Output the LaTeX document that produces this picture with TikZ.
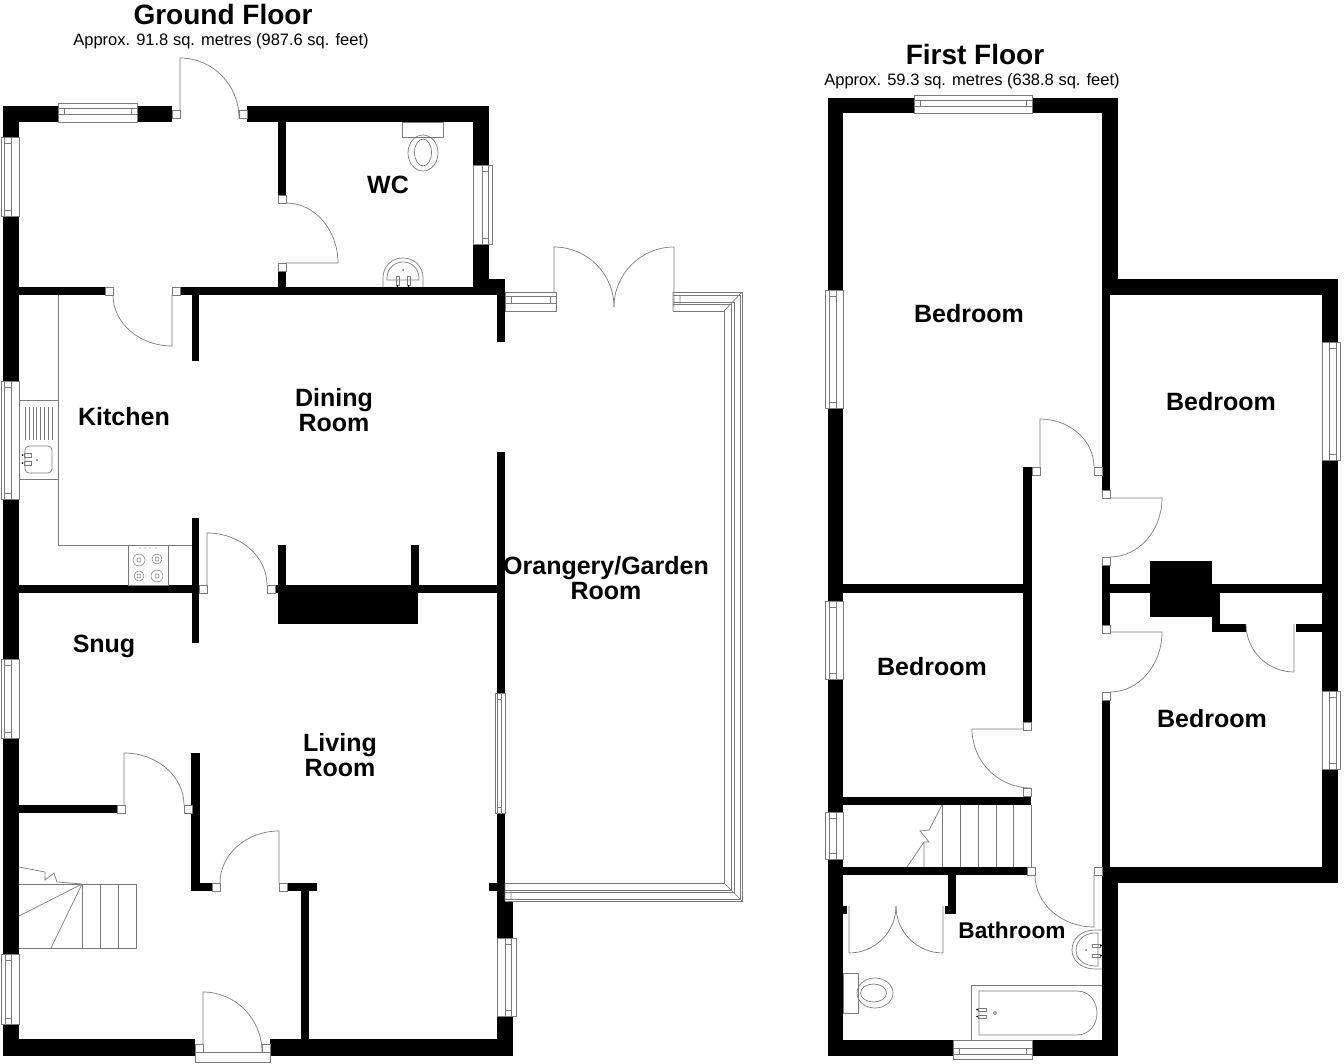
\documentclass[tikz,border=0pt]{standalone}
\usepackage{fontspec}
\setmainfont{Liberation Sans}
\usetikzlibrary{calc}
\begin{document}
\begin{tikzpicture}[x=1pt,y=-1pt,line join=miter,
	wall/.style={fill=black},
	fitting/.style={draw=black!52,line width=0.7pt},
	post/.style={draw=black!52,line width=0.7pt,fill=white},
	room/.style={font=\fontsize{25}{25}\selectfont\bfseries,align=center,inner sep=0pt},
	floortitle/.style={font=\fontsize{28}{28}\selectfont\bfseries,inner sep=0pt},
	approx/.style={font=\fontsize{16.5}{17}\selectfont,inner sep=0pt}]
	\useasboundingbox (0,0) rectangle (1344,1064);
	% Tieu de
	\node[floortitle] (groundtitle) at (223,14) {Ground Floor};
	\node[approx] (groundarea) at (221,41.5) {Approx. 91.8 sq. metres (987.6 sq. feet)};
	\node[floortitle] (firsttitle) at (975,54) {First Floor};
	\node[approx] (firstarea) at (972,81.5) {Approx. 59.3 sq. metres (638.8 sq. feet)};
	% Tuong tang tret
	\foreach \xa/\ya/\xb/\yb in {3/106/58/122,137/106/172/122,247/106/489/122,3/106/19/137,3/216/19/381,
		3/499/19/659,3/738/19/954,3/1024/19/1056,473/106/489/165,473/244/489/287,489/279/505/295,
		19/287/105/295,180/287/497/295,497/279/505/342,192/295/199/361,278/122/286/195,278/271/286/287,
		19/585/192/593,192/518/199/643,275/585/419/593,278/585/418/624,278/545/286/585,411/545/419/585,
		419/585/497/593,497/452/505/693,19/805/117/813,191/753/200/891,191/883/212/891,287/883/317/891,
		301/891/309/1040,3/1039/195/1056,270/1039/513/1056,497/813/505/938,489/883/497/891,505/901/513/938,
		497/1016/513/1056}
	\fill[wall] (\xa,\ya) rectangle (\xb,\yb);
	% Tuong tang 1
	\foreach \xa/\ya/\xb/\yb in {828/98/914/113,1032/98/1118/113,828/98/843/290,828/408/843/601,828/679/843/812,
		828/859/843/1056,828/1040/953/1056,1032/1040/1118/1056,1102/98/1118/295,1102/279/1338/295,
		1322/279/1338/342,1322/460/1338/691,1322/769/1338/883,1110/867/1338/883,1102/875/1118/1056,
		1102/295/1110/490,1102/565/1110/625,1102/700/1110/883,1023/467/1032/722,843/584/1023/593,
		1110/584/1150/593,1150/561/1212/617,1212/584/1322/593,1212/593/1220/632,1212/624/1246/632,
		1296/624/1322/632,843/797/1031/805,843/867/1027/875,948/875/956/914,945/906/956/914,843/906/847/914}
	\fill[wall] (\xa,\ya) rectangle (\xb,\yb);
	% Cua: ban le, dau canh, dau cung
	\foreach \hx/\hy/\ax/\ay/\bx/\by in {180/118/180/58/239/118,286/263/338/263/286/203,172/295/172/346/113/295,
		207/585/207/533/267/585,124/805/124/753/184/805,279/883/279/831/220/883,203/1052/203/992/262/1052,
		554/307/554/247/614/307,674/307/674/247/614/307,
		1040/467/1040/419/1094/467,1110/498/1162/498/1110/557,1110/632/1162/632/1110/692,
		1031/729/972/729/1031/788,1094/875/1094/927/1035/875,1294/624/1294/672/1246/624,
		849/906/849/953/896/906,943/906/943/953/896/906}
	\draw[fitting] (\hx,\hy)--(\ax,\ay) .. controls ($(\ax,\ay)+0.5523*(\bx,\by)-0.5523*(\hx,\hy)$) and ($(\bx,\by)+0.5523*(\ax,\ay)-0.5523*(\hx,\hy)$) .. (\bx,\by);
	\foreach \x/\y in {172/110,239/110,278/195,278/263,105/287,172/287,199/585,267/585,117/805,184/805,212/883,279/883,
		195/1044,262/1044,1032/467,1094/467,1102/490,1102/557,1102/625,1102/692,1023/722,1023/788,1094/867,1027/867}
	\draw[post] (\x,\y) rectangle ++(8,8);
	\draw[post] (195,1052) rectangle (270,1062);
	% Cua so dung
	\foreach \xa/\ya/\xb/\yb/\xc/\xd in {1/137/19/216/4/11,1/381/19/499/4/11,1/659/19/738/4/11,1/954/19/1024/5/11,
		473/165/492/244/482/488,495/693/505/813/497/501,497/938/516/1016/505/511,
		825/290/843/408/829/836,825/601/843/679/829/836,825/812/843/859/829/836,
		1322/342/1340/460/1329/1336,1322/691/1340/769/1329/1336}{
		\draw[post] (\xa,\ya) rectangle (\xb,\yb);
		\draw[fitting] (\xc,\ya)--(\xc,\yb) (\xd,\ya)--(\xd,\yb) (\xc,\ya+6)--(\xd,\ya+6) (\xc,\yb-6)--(\xd,\yb-6);
	}
	% Cua so ngang
	\foreach \xa/\ya/\xb/\yb/\yc/\yd in {58/103/137/122/108/114,914/95/1032/113/100/106,953/1040/1032/1059/1048/1054,
		505/292/556/311/296/303}{
		\draw[post] (\xa,\ya) rectangle (\xb,\yb);
		\draw[fitting] (\xa,\yc)--(\xb,\yc) (\xa,\yd)--(\xb,\yd) (\xa+6,\yc)--(\xa+6,\yd) (\xb-6,\yc)--(\xb-6,\yd);
	}
	% Khung nha kinh
	\foreach \x/\yt/\yb in {724/311/883,731/304/890,734/302/892,740/295/899,742/292/901}
	\draw[fitting] (673,\yt)--(\x,\yt)--(\x,\yb)--(505,\yb);
	\draw[fitting] (724,311)--(742,292) (724,883)--(742,901) (673,292)--(673,311) (680,295)--(680,304) (505,883)--(505,901) (511,890)--(511,899);
	% Bep
	\draw[fitting] (58,295)--(58,545)--(192,545) (19,400)--(58,400) (19,479)--(58,479);
	\foreach \x in {25,28.9,32.8,36.7,40.6,44.5,48.4,52}
	\draw[fitting,line width=0.5pt] (\x,407)--(\x,440);
	\draw[fitting,rounded corners=4pt] (25,446) rectangle (52,473);
	\draw[fitting] (24,453) rectangle (31,457) (24,461) rectangle (31,465);
	\fill[black] (22.5,455) circle (1pt) (22.5,463) circle (1pt);
	\fill[black!60] (37,460) circle (1pt);
	\draw[fitting] (128,545) rectangle (168,585);
	\foreach \x/\y/\r in {139/560/6,157/559/5,139/576/5,157/576/6}
	\draw[fitting,line width=0.5pt] (\x,\y) circle (\r) (\x,\y) circle (2);
	\foreach \x in {140,145,150,156}
	\fill[black!60] (\x,548) circle (0.7pt);
	% Thiet bi WC
	\draw[fitting] (402,122) rectangle (443,137);
	\draw[fitting] (423,153) ellipse (15 and 18) (423,152.5) ellipse (8.5 and 13.5);
	\draw[fitting] (383,287)--(383,278) .. controls (383,266) and (392,258) .. (403,258) .. controls (414,258) and (423,266) .. (423,278)--(423,287);
	\draw[fitting] (387,280)--(387,278) .. controls (387,269) and (394,262) .. (403,262) .. controls (412,262) and (419,269) .. (419,278)--(419,280)--cycle;
	\draw[fitting] (396,276) rectangle (399,285) (407,276) rectangle (410,285);
	\fill[black] (397.5,286) circle (1pt) (408.5,286) circle (1pt);
	\fill[black!60] (403,270) circle (1pt);
	% Cau thang tang tret
	\draw[fitting] (19,884)--(136,884)--(136,948)--(19,948);
	\foreach \x in {82,100,118}
	\draw[fitting] (\x,884)--(\x,948);
	\draw[fitting] (82,884)--(19,916) (82,884)--(51,948) (19,867)--(45,872)--(45,880)--(54,873)--(57,882)--(82,884);
	% Cau thang tang 1
	\draw[fitting] (1031,805)--(1031,867);
	\foreach \x in {942,960,978,996,1013}
	\draw[fitting] (\x,805)--(\x,867);
	\draw[fitting] (924,842)--(924,867) (942,805)--(929,830)--(920,831)--(925,837)--(929,842)--(924,842)--(907,867);
	% Phong tam
	\draw[fitting] (843,973) rectangle (858,1013);
	\draw[fitting] (875,993) ellipse (18 and 15) (873.5,993) ellipse (13 and 9);
	\draw[fitting] (1102,930)--(1095,930) .. controls (1082,930) and (1072,938) .. (1072,950) .. controls (1072,961) and (1082,969) .. (1095,969)--(1102,969);
	\draw[fitting] (1098,933)--(1095,933) .. controls (1084,933) and (1076,941) .. (1076,950) .. controls (1076,959) and (1084,966) .. (1095,966)--(1098,966)--cycle;
	\draw[fitting] (1092,944) rectangle (1100,947) (1092,954) rectangle (1100,957);
	\fill[black] (1101,945.5) circle (1pt) (1101,955.5) circle (1pt);
	\fill[black!60] (1086,950) circle (1pt);
	\draw[fitting] (971,1040)--(971,985)--(1102,985);
	\draw[fitting] (979,991)--(1077,991) .. controls (1089,991) and (1097,1001) .. (1097,1013) .. controls (1097,1025) and (1089,1035) .. (1077,1035)--(979,1035)--cycle;
	\draw[fitting] (978,1008) rectangle (986,1011) (978,1015) rectangle (986,1018);
	\fill[black] (977,1009.5) circle (1pt) (977,1016.5) circle (1pt);
	\draw[fitting] (995,1013) circle (1.6);
	% Ten phong
	\node[room] (wc) at (388,185) {WC};
	\node[room] (kitchen) at (124,417) {Kitchen};
	\node[room] (dining) at (334,410) {Dining\\Room};
	\node[room] (snug) at (104,646) {Snug};
	\node[room] (living) at (340,755) {Living\\Room};
	\node[room] (orangery) at (606,578) {Orangery/Garden\\Room};
	\node[room] (bedroomA) at (969,314) {Bedroom};
	\node[room] (bedroomB) at (1221,402) {Bedroom};
	\node[room] (bedroomC) at (932,667) {Bedroom};
	\node[room] (bedroomD) at (1212,719) {Bedroom};
	\node[room,font=\fontsize{22.7}{24}\selectfont\bfseries] (bathroom) at (1012,930) {Bathroom};
\end{tikzpicture}
\end{document}
